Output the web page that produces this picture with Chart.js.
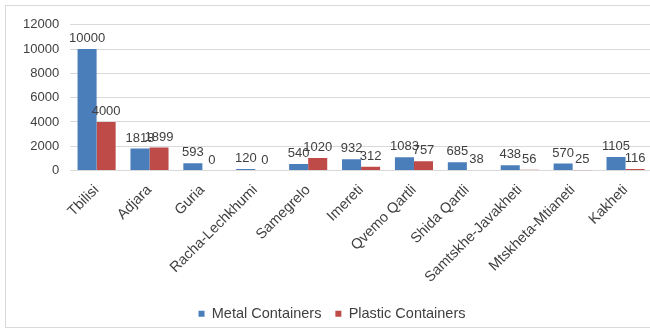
<!DOCTYPE html>
<html>
<head>
<meta charset="utf-8">
<script src="https://cdn.jsdelivr.net/npm/chart.js@4"></script>
<style>
  html, body { margin: 0; padding: 0; background: #fff; width: 650px; height: 332px; overflow: hidden; }
  #box { position: absolute; left: 5px; top: 5px; width: 665px; height: 321px; border: 1px solid #d9d9d9; }
  #chart { position: absolute; left: 0; top: 0; }
</style>
</head>
<body>
<div id="box"><canvas id="chart" width="665" height="321"></canvas></div>
<script>
const regions = ["Tbilisi", "Adjara", "Guria", "Racha-Lechkhumi", "Samegrelo", "Imereti",
  "Qvemo Qartli", "Shida Qartli", "Samtskhe-Javakheti", "Mtskheta-Mtianeti", "Kakheti"];
const metal = [10000, 1818, 593, 120, 540, 932, 1083, 685, 438, 570, 1105];
const plastic = [4000, 1899, 0, 0, 1020, 312, 757, 38, 56, 25, 116];
const yTicks = [0, 2000, 4000, 6000, 8000, 10000, 12000];

const FONT = "'Liberation Sans', Arial, sans-serif";

// value labels above each bar
const barLabels = {
  id: "barLabels",
  afterDatasetsDraw(chart) {
    const ctx = chart.ctx;
    ctx.save();
    ctx.font = "13px " + FONT;
    ctx.fillStyle = "#404040";
    ctx.textAlign = "center";
    ctx.textBaseline = "bottom";
    chart.data.datasets.forEach((ds, i) => {
      chart.getDatasetMeta(i).data.forEach((bar, j) => {
        ctx.fillText(String(ds.data[j]), bar.x, bar.y - 4);
      });
    });
    ctx.restore();
  }
};

new Chart(document.getElementById("chart"), {
  type: "bar",
  data: {
    labels: regions,
    datasets: [
      { label: "Metal Containers", data: metal, backgroundColor: "#4a7ebb" },
      { label: "Plastic Containers", data: plastic, backgroundColor: "#be4b48" },
    ],
  },
  options: {
    responsive: false,
    animation: false,
    categoryPercentage: 0.72,
    barPercentage: 1,
    layout: { padding: { left: 6, right: 19, top: 1, bottom: -4 } },
    scales: {
      x: {
        grid: { display: false },
        border: { color: "#d9d9d9" },
        afterFit: axis => { axis.height = 122; },
        ticks: {
          minRotation: 45, maxRotation: 45, autoSkip: false, padding: 3,
          color: "#404040", font: { size: 14.5, family: FONT },
        },
      },
      y: {
        min: 0, max: 12000,
        afterBuildTicks: axis => { axis.ticks = yTicks.map(v => ({ value: v })); },
        grid: { color: "#d9d9d9", drawTicks: false },
        border: { display: false },
        ticks: {
          padding: 11,
          callback: v => String(v),
          color: "#404040", font: { size: 13, family: FONT },
        },
      },
    },
    plugins: {
      legend: {
        position: "bottom",
        labels: {
          boxWidth: 6, boxHeight: 6, padding: 14,
          color: "#404040", font: { size: 14.5, family: FONT },
        },
      },
      tooltip: { enabled: false },
    },
  },
  plugins: [barLabels],
});
</script>
</body>
</html>
